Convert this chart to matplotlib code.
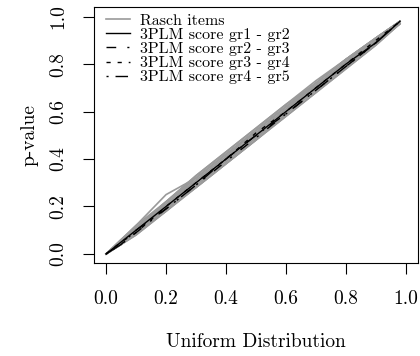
import matplotlib
matplotlib.use("Agg")
import matplotlib.pyplot as plt

plt.rcParams['font.family'] = ['cmr10', 'DejaVu Serif']
plt.rcParams['axes.formatter.use_mathtext'] = True

# common x grid (uniform quantiles)
unif = [0.0, 0.05, 0.1, 0.2, 0.3, 0.4, 0.5, 0.6, 0.7, 0.8, 0.9, 0.98]

# Rasch items (grey band)
rasch_items = [
    [0, 0.06, 0.12, 0.25, 0.32, 0.42, 0.52, 0.62, 0.72, 0.82, 0.91, 0.98],
    [0, 0.05, 0.11, 0.22, 0.33, 0.43, 0.53, 0.63, 0.72, 0.82, 0.91, 0.98],
    [0, 0.04, 0.09, 0.19, 0.28, 0.38, 0.48, 0.58, 0.68, 0.78, 0.88, 0.97],
    [0, 0.05, 0.10, 0.21, 0.31, 0.41, 0.52, 0.62, 0.71, 0.81, 0.91, 0.98],
    [0, 0.04, 0.08, 0.18, 0.28, 0.38, 0.48, 0.58, 0.68, 0.78, 0.88, 0.97],
    [0, 0.06, 0.11, 0.22, 0.32, 0.42, 0.51, 0.61, 0.71, 0.81, 0.90, 0.98],
    [0, 0.04, 0.10, 0.20, 0.30, 0.40, 0.50, 0.60, 0.70, 0.80, 0.89, 0.98],
    [0, 0.05, 0.09, 0.19, 0.30, 0.40, 0.51, 0.61, 0.71, 0.80, 0.90, 0.97],
    [0, 0.04, 0.09, 0.18, 0.29, 0.39, 0.49, 0.59, 0.69, 0.79, 0.89, 0.97],
    [0, 0.06, 0.12, 0.22, 0.33, 0.43, 0.53, 0.63, 0.73, 0.82, 0.91, 0.98],
    [0, 0.04, 0.08, 0.18, 0.28, 0.38, 0.48, 0.59, 0.69, 0.79, 0.89, 0.97],
    [0, 0.05, 0.11, 0.21, 0.32, 0.42, 0.52, 0.62, 0.72, 0.82, 0.91, 0.98],
    [0, 0.05, 0.10, 0.20, 0.31, 0.41, 0.50, 0.60, 0.70, 0.80, 0.90, 0.98],
    [0, 0.05, 0.10, 0.19, 0.29, 0.39, 0.49, 0.60, 0.69, 0.79, 0.89, 0.97],
]

# 3PLM score groups
score_labels = ['3PLM score gr1 - gr2', '3PLM score gr2 - gr3',
                '3PLM score gr3 - gr4', '3PLM score gr4 - gr5']
score_values = [
    [0, 0.05, 0.10, 0.20, 0.30, 0.40, 0.50, 0.60, 0.70, 0.80, 0.89, 0.98],
    [0, 0.04, 0.09, 0.19, 0.29, 0.39, 0.49, 0.59, 0.69, 0.79, 0.89, 0.98],
    [0, 0.05, 0.09, 0.20, 0.30, 0.40, 0.51, 0.60, 0.70, 0.80, 0.90, 0.98],
    [0, 0.04, 0.10, 0.19, 0.29, 0.40, 0.50, 0.59, 0.69, 0.79, 0.89, 0.98],
]
score_dashes = [None, (7, 8, 1.5, 8), (3, 5), (1.5, 5, 9, 5)]

ticks = [0.0, 0.2, 0.4, 0.6, 0.8, 1.0]
tick_labels = ['0.0', '0.2', '0.4', '0.6', '0.8', '1.0']

fig = plt.figure(figsize=(4.2, 3.56), dpi=100)
ax = fig.add_axes([0.224, 0.26, 0.771, 0.72])

for i, yv in enumerate(rasch_items):
    ax.plot(unif, yv, color='#9a9a9a', lw=1.2,
            label='Rasch items' if i == 0 else None)

for yv, lab, dsh in zip(score_values, score_labels, score_dashes):
    line, = ax.plot(unif, yv, color='black', lw=1.0, label=lab)
    if dsh is not None:
        line.set_dashes(dsh)

ax.set_xlim(-0.04, 1.04)
ax.set_ylim(-0.04, 1.04)
ax.set_xticks(ticks)
ax.set_xticklabels(tick_labels, fontsize=14)
ax.set_yticks(ticks)
ax.set_yticklabels(tick_labels, fontsize=14, rotation=90, va='center')
ax.tick_params(direction='out', length=8, width=0.8, pad=11)
for s in ax.spines.values():
    s.set_linewidth(0.8)

ax.set_xlabel('Uniform Distribution', fontsize=14, labelpad=18)
ax.set_ylabel('p-value', fontsize=14, labelpad=8)

leg = ax.legend(loc='upper left', bbox_to_anchor=(0.037, 0.975),
                frameon=False, fontsize=11.5, handlelength=1.5,
                handletextpad=0.6, labelspacing=0.0, borderpad=0,
                borderaxespad=0)

fig.savefig('out.png', dpi=100)
